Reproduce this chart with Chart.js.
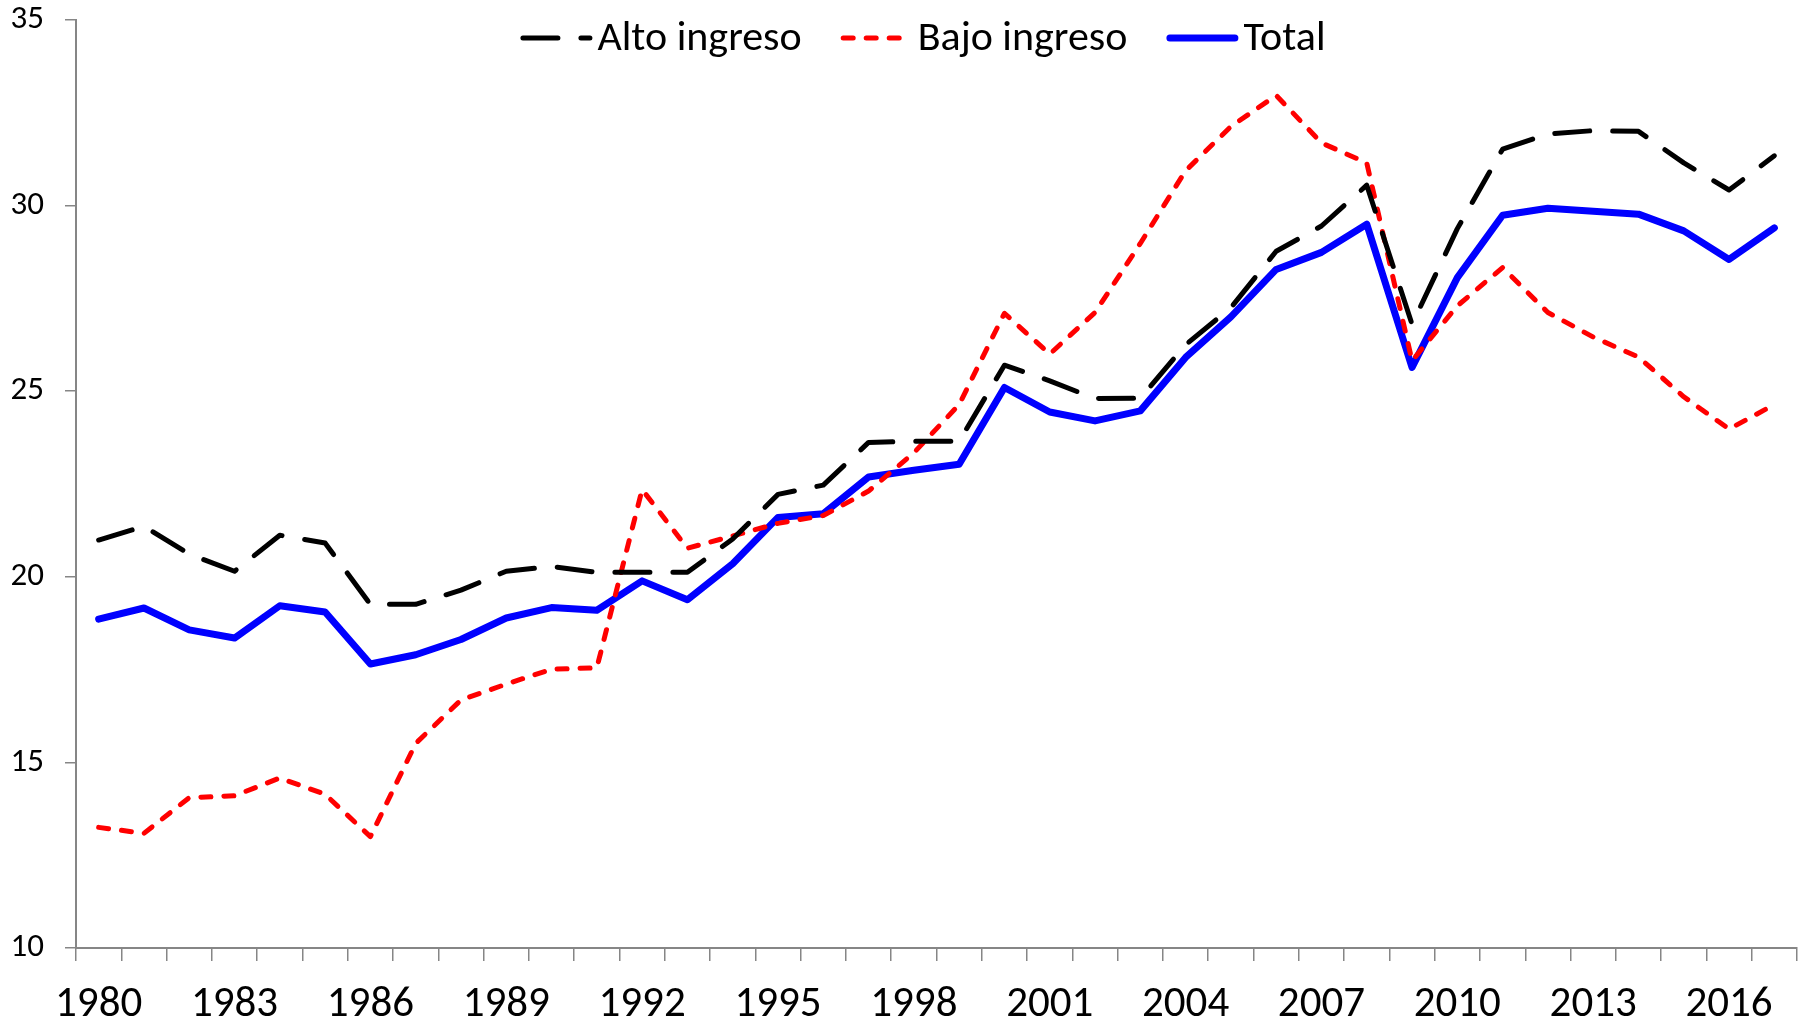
<!DOCTYPE html>
<html>
<head>
<meta charset="utf-8">
<script src="https://cdn.jsdelivr.net/npm/chart.js@4.4.1/dist/chart.umd.min.js"></script>
<style>
  html, body { margin: 0; padding: 0; background: #ffffff; }
  #wrap { width: 1808px; height: 1022px; position: relative; }
</style>
</head>
<body>
<div id="wrap"><canvas id="c" width="1808" height="1022"></canvas></div>
<script>
const years = ['1980','1981','1982','1983','1984','1985','1986','1987','1988','1989',
  '1990','1991','1992','1993','1994','1995','1996','1997','1998','1999',
  '2000','2001','2002','2003','2004','2005','2006','2007','2008','2009',
  '2010','2011','2012','2013','2014','2015','2016','2017'];

const altoIngreso = [20.99, 21.36, 20.61, 20.15, 21.12, 20.91, 19.26, 19.26, 19.64, 20.15,
  20.28, 20.12, 20.12, 20.12, 21.02, 22.22, 22.47, 23.62, 23.65, 23.65,
  25.70, 25.28, 24.80, 24.81, 26.25, 27.25, 28.77, 29.45, 30.55, 26.80,
  29.38, 31.52, 31.93, 32.02, 32.00, 31.15, 30.42, 31.34];

const bajoIngreso = [13.25, 13.09, 14.05, 14.10, 14.58, 14.14, 13.00, 15.51, 16.68, 17.11,
  17.51, 17.55, 22.35, 20.77, 21.10, 21.44, 21.65, 22.31, 23.34, 24.64,
  27.10, 26.00, 27.12, 28.98, 30.94, 32.13, 32.97, 31.69, 31.15, 25.82,
  27.30, 28.33, 27.12, 26.46, 25.92, 24.85, 23.98, 24.64];

const total = [18.86, 19.16, 18.57, 18.35, 19.22, 19.05, 17.65, 17.90, 18.31, 18.89,
  19.17, 19.10, 19.89, 19.38, 20.35, 21.60, 21.70, 22.69, 22.87, 23.03,
  25.10, 24.44, 24.20, 24.47, 25.91, 27.00, 28.28, 28.74, 29.50, 25.64,
  28.06, 29.74, 29.93, 29.85, 29.77, 29.32, 28.55, 29.40];

const seriesNames = ['Alto ingreso', 'Bajo ingreso', 'Total'];
const yTicks = [10, 15, 20, 25, 30, 35];

const FONT = "Carlito, Calibri, Lato, 'Liberation Sans', sans-serif";
const AXIS_GRAY = '#868686';

const legendPlugin = {
  id: 'excelLegend',
  afterDraw(chart) {
    const ctx = chart.ctx;
    const ds = chart.data.datasets;
    const lineLen = 72, textGap = 5, itemGap = 39, cy = 38;
    ctx.save();
    ctx.font = '42px ' + FONT;
    ctx.textBaseline = 'middle';
    const widths = ds.map(d => ctx.measureText(d.label).width);
    let totalW = 0;
    widths.forEach((w, i) => { totalW += lineLen + textGap + w + (i < ds.length - 1 ? itemGap : 0); });
    let x = 923 - totalW / 2;
    ds.forEach((d, i) => {
      ctx.beginPath();
      ctx.strokeStyle = d.borderColor;
      ctx.lineWidth = d.borderWidth;
      ctx.lineCap = 'round';
      ctx.setLineDash(d.borderDash || []);
      ctx.moveTo(x + d.borderWidth / 2, cy);
      ctx.lineTo(x + lineLen - d.borderWidth / 2, cy);
      ctx.stroke();
      ctx.setLineDash([]);
      ctx.fillStyle = '#000000';
      ctx.textAlign = 'left';
      ctx.fillText(d.label, x + lineLen + textGap, cy + 1);
      x += lineLen + textGap + widths[i] + itemGap;
    });
    ctx.restore();
  }
};

new Chart(document.getElementById('c'), {
  type: 'line',
  data: {
    labels: years,
    datasets: [
      { label: seriesNames[0], data: altoIngreso, borderColor: '#000000', borderWidth: 5,
        borderDash: [35, 23], borderCapStyle: 'round', borderJoinStyle: 'round',
        pointRadius: 0, tension: 0, fill: false },
      { label: seriesNames[1], data: bajoIngreso, borderColor: '#FF0000', borderWidth: 5,
        borderDash: [10, 13], borderCapStyle: 'round', borderJoinStyle: 'round',
        pointRadius: 0, tension: 0, fill: false },
      { label: seriesNames[2], data: total, borderColor: '#0000FF', borderWidth: 7,
        borderCapStyle: 'round', borderJoinStyle: 'round',
        pointRadius: 0, tension: 0, fill: false }
    ]
  },
  options: {
    responsive: false,
    animation: false,
    devicePixelRatio: 1,
    layout: { padding: { top: 0, right: 11, left: 0, bottom: 0 } },
    plugins: {
      legend: { display: false },
      tooltip: { enabled: false }
    },
    scales: {
      x: {
        type: 'category',
        offset: true,
        grid: { display: true, offset: true, drawOnChartArea: false, drawTicks: true,
                tickLength: 13, color: AXIS_GRAY, lineWidth: 1.5 },
        border: { display: true, color: AXIS_GRAY, width: 2 },
        ticks: {
          autoSkip: false, maxRotation: 0, minRotation: 0, padding: 18,
          color: '#000000', font: { family: FONT, size: 43 },
          callback: function(val, index) { return index % 3 === 0 ? years[index] : ''; }
        },
        afterFit(scale) { scale.height = 74; }
      },
      y: {
        min: 10, max: 35,
        afterBuildTicks(scale) { scale.ticks = yTicks.map(v => ({ value: v })); },
        grid: { display: true, drawOnChartArea: false, drawTicks: true,
                tickLength: 11, color: AXIS_GRAY, lineWidth: 1.5 },
        border: { display: true, color: AXIS_GRAY, width: 2 },
        ticks: { color: '#000000', padding: 21, font: { family: FONT, size: 33 } },
        afterFit(scale) { scale.width = 76; scale.paddingTop = 20; scale.paddingBottom = 0; }
      }
    }
  },
  plugins: [legendPlugin]
});
</script>
</body>
</html>
